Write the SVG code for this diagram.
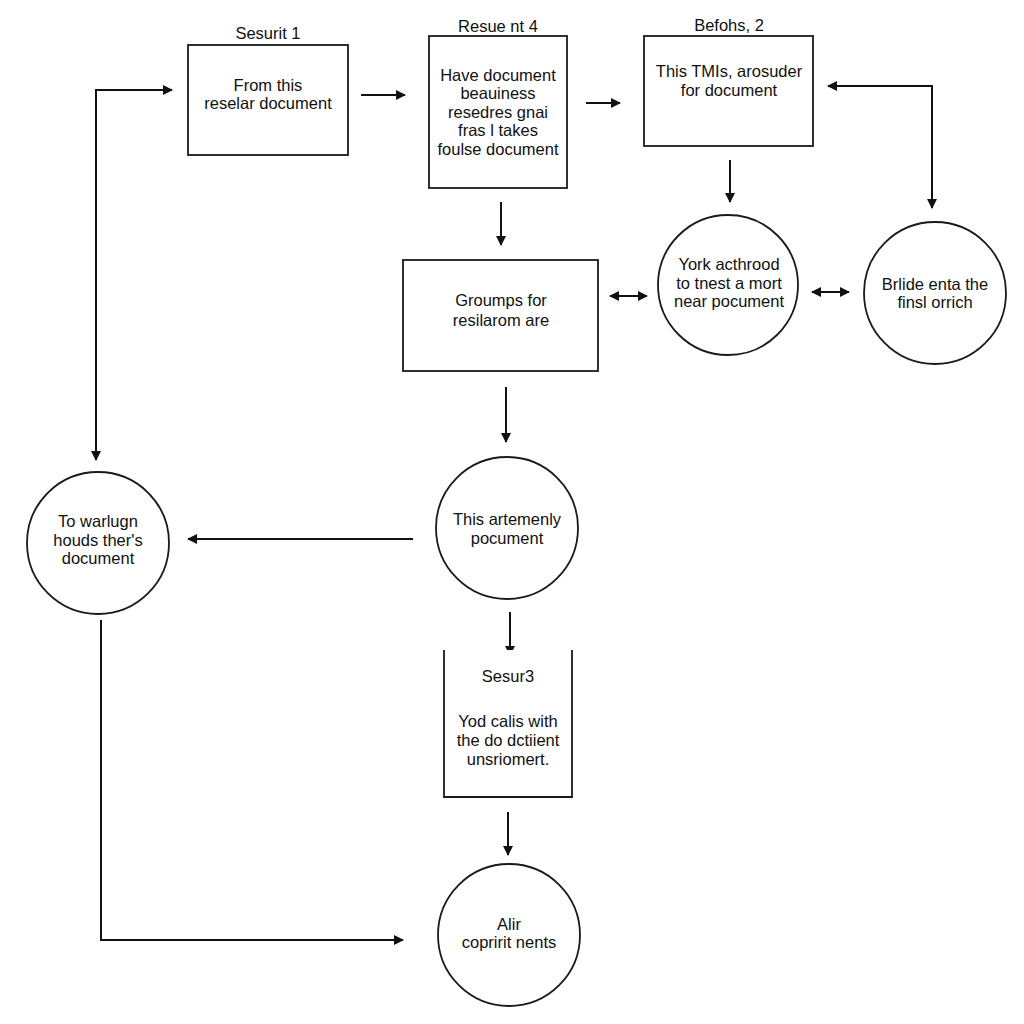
<svg xmlns="http://www.w3.org/2000/svg" width="1024" height="1024" viewBox="0 0 1024 1024">
<style>
.n{fill:#fff;stroke:#1a1a1a;stroke-width:1.8}
.t{font-family:"Liberation Sans",Arial,sans-serif;font-size:16.5px;fill:#111;text-anchor:middle}
.c{fill:none;stroke:#111;stroke-width:2}
</style>
<defs>
<marker id="ah" viewBox="0 0 10 10" refX="9" refY="5" markerWidth="5" markerHeight="5" orient="auto-start-reverse" markerUnits="strokeWidth">
<path d="M0,0 L10,5 L0,10 z" fill="#111"/>
</marker>
</defs>
<rect width="1024" height="1024" fill="#fff"/>
<g id="connectors">
<polyline class="c" points="96,460 96,90 172,90" marker-start="url(#ah)" marker-end="url(#ah)"/>
<line class="c" x1="361" y1="95" x2="405" y2="95" marker-end="url(#ah)"/>
<line class="c" x1="586" y1="103" x2="620" y2="103" marker-end="url(#ah)"/>
<line class="c" x1="730" y1="160" x2="730" y2="202" marker-end="url(#ah)"/>
<polyline class="c" points="828,86 932,86 932,208" marker-start="url(#ah)" marker-end="url(#ah)"/>
<line class="c" x1="501" y1="202" x2="501" y2="245" marker-end="url(#ah)"/>
<line class="c" x1="610" y1="296" x2="647" y2="296" marker-start="url(#ah)" marker-end="url(#ah)"/>
<line class="c" x1="812" y1="292" x2="849" y2="292" marker-start="url(#ah)" marker-end="url(#ah)"/>
<line class="c" x1="506" y1="387" x2="506" y2="442" marker-end="url(#ah)"/>
<line class="c" x1="413" y1="539" x2="188" y2="539" marker-end="url(#ah)"/>
<line class="c" x1="510" y1="612" x2="510" y2="655" marker-end="url(#ah)"/>
<line class="c" x1="508" y1="812" x2="508" y2="855" marker-end="url(#ah)"/>
<polyline class="c" points="101,620 101,940 403,940" marker-end="url(#ah)"/>
</g>
<g id="box1">
<text class="t" x="268" y="39">Sesurit 1</text>
<rect class="n" x="188" y="45" width="160" height="110"/>
<text class="t" x="268" y="91">From this</text>
<text class="t" x="268" y="109">reselar document</text>
</g>
<g id="box2">
<text class="t" x="498" y="32">Resue nt 4</text>
<rect class="n" x="429" y="36" width="138" height="152"/>
<text class="t" x="498" y="81">Have document</text>
<text class="t" x="498" y="99">beauiness</text>
<text class="t" x="498" y="118">resedres gnai</text>
<text class="t" x="498" y="136">fras l takes</text>
<text class="t" x="498" y="155">foulse document</text>
</g>
<g id="box3">
<text class="t" x="729" y="31">Befohs, 2</text>
<rect class="n" x="644" y="36" width="169" height="110"/>
<text class="t" x="729" y="77">This TMIs, arosuder</text>
<text class="t" x="729" y="96">for document</text>
</g>
<g id="box4">
<rect class="n" x="403" y="260" width="195" height="111"/>
<text class="t" x="501" y="306">Groumps for</text>
<text class="t" x="501" y="326">resilarom are</text>
</g>
<g id="circle-york">
<circle class="n" cx="728" cy="285" r="70"/>
<text class="t" x="729" y="270">York acthrood</text>
<text class="t" x="729" y="289">to tnest a mort</text>
<text class="t" x="729" y="307">near pocument</text>
</g>
<g id="circle-brlide">
<circle class="n" cx="935" cy="293" r="71"/>
<text class="t" x="935" y="290">Brlide enta the</text>
<text class="t" x="935" y="308">finsl orrich</text>
</g>
<g id="circle-left">
<circle class="n" cx="98" cy="543" r="71"/>
<text class="t" x="98" y="527">To warlugn</text>
<text class="t" x="98" y="546">houds ther's</text>
<text class="t" x="98" y="564">document</text>
</g>
<g id="circle-this">
<circle class="n" cx="507" cy="528" r="71"/>
<text class="t" x="507" y="525">This artemenly</text>
<text class="t" x="507" y="544">pocument</text>
</g>
<g id="box-sesur3">
<rect x="444" y="650" width="128" height="147" fill="#fff"/>
<polyline fill="none" stroke="#1a1a1a" stroke-width="1.8" points="444,650 444,797 572,797 572,650"/>
<text class="t" x="508" y="682">Sesur3</text>
<text class="t" x="508" y="727">Yod calis with</text>
<text class="t" x="508" y="746">the do dctiient</text>
<text class="t" x="508" y="765">unsriomert.</text>
</g>
<g id="circle-bottom">
<circle class="n" cx="509" cy="935" r="71"/>
<text class="t" x="509" y="930">Alir</text>
<text class="t" x="509" y="948">copririt nents</text>
</g>
</svg>
